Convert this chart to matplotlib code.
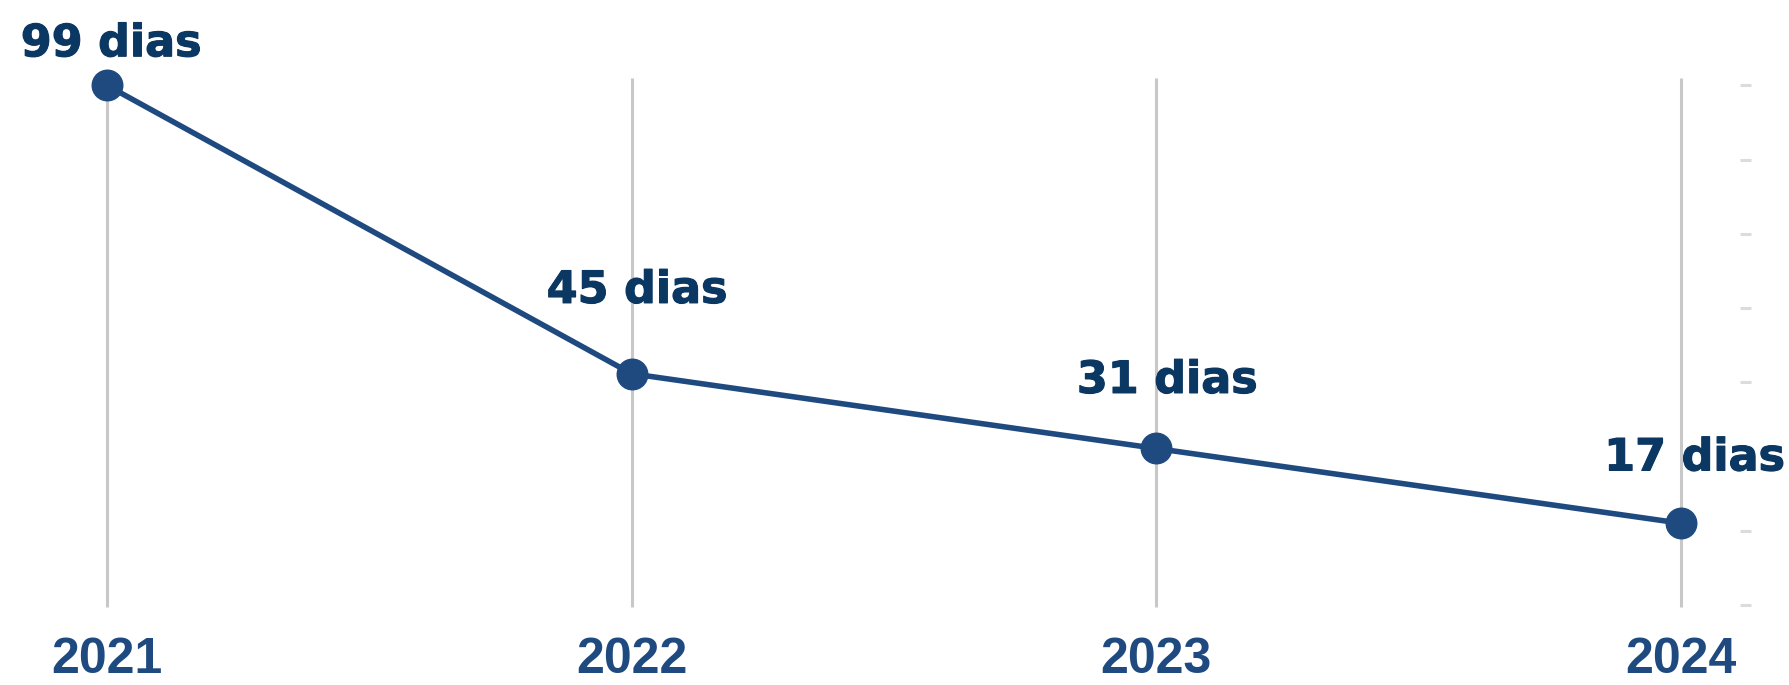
import matplotlib
matplotlib.use("Agg")
import matplotlib.pyplot as plt
import matplotlib.patheffects as pe
import numpy as np

# data
years = [2021, 2022, 2023, 2024]
dias = [99, 45, 31, 17]
labels = [f"{v} dias" for v in dias]
year_labels = [str(y) for y in years]

line_color = "#1f4a80"
text_color = "#0b3763"

fig = plt.figure(figsize=(17.9, 6.85), dpi=100)
ax = fig.add_axes([0, 0, 1, 1])
ax.set_xlim(2020.796, 2024.208)
ax.set_ylim(-13.3, 115)
ax.axis("off")

# vertical gridlines
ax.vlines(years, 1.3, 100.4, color="#c8c8c8", lw=2.2, zorder=1)

# right side tick marks
ticks = np.linspace(99, 1.7, 8)
ax.hlines(ticks, 2024.112, 2024.133, color="#dcdcdc", lw=2.2, zorder=1)

# line + markers
ax.plot(years, dias, color=line_color, lw=4, marker="o", markersize=22,
        zorder=3, solid_capstyle="round")

# value labels
offsets = [(3, 30), (4, 60), (8, 49), (10, 47)]
for x, y, lab, off in zip(years, dias, labels, offsets):
    ax.annotate(lab, (x, y), xytext=off, textcoords="offset points",
                ha="center", va="center", fontsize=32, fontweight="bold",
                color=text_color, family="DejaVu Sans",
                path_effects=[pe.withStroke(linewidth=0.8, foreground=text_color)])

# year labels
for x, lab in zip(years, year_labels):
    ax.text(x, -8.6, lab, ha="center", va="center", fontsize=36,
            fontweight="bold", color=line_color, family=["Liberation Sans", "DejaVu Sans"])

plt.savefig("out.png", dpi=100)
